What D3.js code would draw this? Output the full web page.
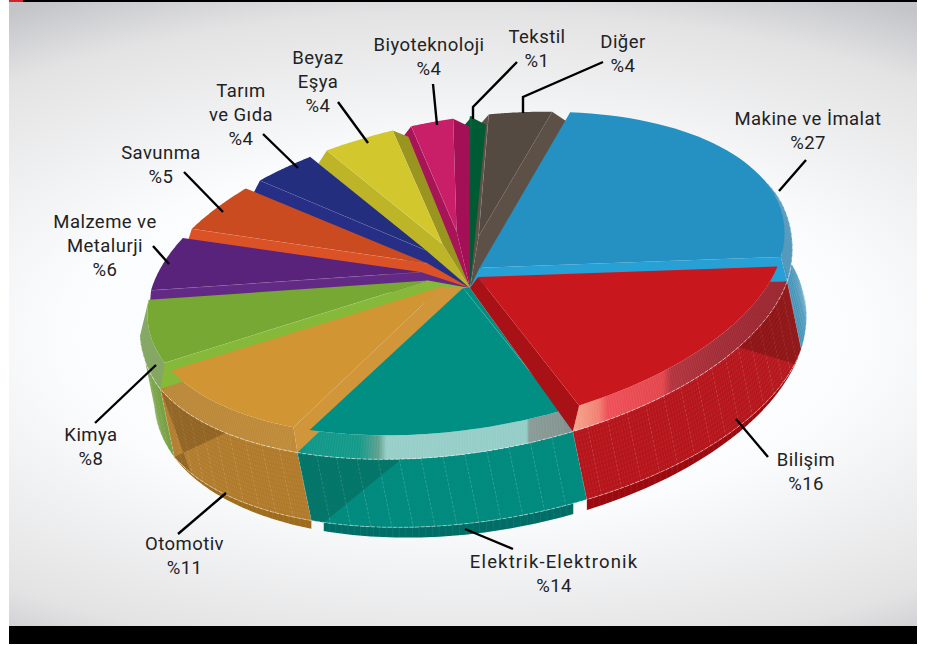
<!DOCTYPE html>
<html lang="tr">
<head>
<meta charset="utf-8">
<title>Sektörlere göre dağılım</title>
<script src="https://cdn.jsdelivr.net/npm/d3@7"></script>
<style>
html,body{margin:0;padding:0;background:#fff}
svg{display:block}
text{font-family:Roboto,"Open Sans",sans-serif;font-size:18.5px;font-weight:400;fill:#222;text-anchor:middle;letter-spacing:.45px}
</style>
</head>
<body>
<svg id="chart" width="927" height="646"></svg>
<script>
// Sector shares, clockwise from the large blue slice
const sectorNames = ["Makine ve İmalat","Bilişim","Elektrik-Elektronik","Otomotiv","Kimya","Malzeme ve Metalurji","Savunma","Tarım ve Gıda","Beyaz Eşya","Biyoteknoloji","Tekstil","Diğer"];
const sectorShares = [27,16,14,11,8,6,5,4,4,4,1,4];
const labelLines = [["Makine ve İmalat"],["Bilişim"],["Elektrik-Elektronik"],["Otomotiv"],["Kimya"],["Malzeme ve","Metalurji"],["Savunma"],["Tarım","ve Gıda"],["Beyaz","Eşya"],["Biyoteknoloji"],["Tekstil"],["Diğer"]];

// Slice colours: top face, start-side bevel, end-side bevel, wall, foot
const faceColors  = ["#2590c2","#c8171d","#018f83","#d29533","#78a834","#59227b","#cb4b20","#232e7e","#d2c82e","#c81f68","#00663a","#554a41"];
const startColors = ["#27a0d6","#a81216","#018f83","#d2963a","#86b83a","#632a85","#da5226","#262f85","#bdb527","#a81458","#005a33","#5d5047"];
const endColors   = ["#27a0d6","#a81216","#018f83","#d2963a","#86b83a","#632a85","#da5226","#262f85","#9a9421","#a31055","#005a33","#5d5047"];
const wallColors  = ["#2e87b0","#b5151b","#018a7e","#b07a2a","#6c9a34","#59227b","#cb4b20","#232e7e","#d2c82e","#c81f68","#00663a","#554a41"];
const footColors  = ["#1f7099","#9b0a0e","#006e66","#9e6c1c","#557e24","#59227b","#cb4b20","#232e7e","#d2c82e","#c81f68","#00663a","#554a41"];
// Strength of the fine stipple on each visible wall
const stippleOpacity = [.3,.1,.03,.1,.14];

// Drawn angle of each slice boundary: the oblique view stretches the front and squeezes the back
const boundaryDegrees = [22,105,165.5,215.7,254,281.5,303.5,322.6,337,353,364,367,382];
// Where each face narrows to its point, as a fraction of the radius
const tipRadius = [.05,.05,.09,.1,.12,.15,.155,.22,.22,.28,.2,.23];
// Paint order of the slices from back to front
const paintOrder = [11,10,9,8,7,6,5,4,3,2,0,1];

// Label placement: centre x and first baseline, then leader polyline
const labelAnchors = [[808,125],[806,466],[554,568],[184.5,550],[91,441],[105,228],[161,159],[241,97],[318,64],[429,51],[537,43],[623,48]];
const labelTracking = [.45,.45,1.15,.45,.45,.45,.45,.45,.45,.45,.45,.45];
const leaderPaths = [
  [[806,160],[779,191]],
  [[768,457],[736,419]],
  [[513,549],[465,529]],
  [[178,534],[226,493]],
  [[95,423],[156,365]],
  [[153,246],[169,264]],
  [[184,172],[223,212]],
  [[263,134],[298,168]],
  [[338,102],[368,143]],
  [[433,84],[437,125]],
  [[517,62],[473,107],[473,119]],
  [[603,62],[523,97],[523,113]]
];

const plot = {left:9, right:917, top:2, bottom:626};
const cx = 466, cy = 273.5, radiusX = 322, radiusY = 155;
const sinT = -0.165, cosT = 0.986;
const apex = [470,288];
const wallVector = [14,68], gap = 1.7 * Math.PI / 180;
const wallFrom = 60 * Math.PI / 180, wallTo = 272 * Math.PI / 180;

const svg = d3.select("#chart");
const defs = svg.append("defs");

// Backdrop: white centre fading to cool grey at the corners
const bg = defs.append("radialGradient").attr("id","backdrop").attr("gradientUnits","userSpaceOnUse")
  .attr("cx",0).attr("cy",0).attr("r",1)
  .attr("gradientTransform","translate(463,335) scale(848,381.6)");
[[0,"#fdfeff"],[.5,"#fbfcfd"],[.9,"#e3e3e4"],[1.06,"#c4c5c9"]].forEach(([o,c]) => bg.append("stop").attr("offset",o/1.06).attr("stop-color",c));

svg.append("rect").attr("x",plot.left).attr("y",plot.top).attr("width",plot.right-plot.left).attr("height",plot.bottom-plot.top).attr("fill","url(#backdrop)");
svg.append("rect").attr("x",plot.left).attr("y",0).attr("width",plot.right-plot.left).attr("height",plot.top).attr("fill","#000");
svg.append("rect").attr("x",plot.left).attr("y",0).attr("width",14).attr("height",plot.top).attr("fill","#d2232a");
svg.append("rect").attr("x",plot.left).attr("y",plot.bottom).attr("width",plot.right-plot.left).attr("height",18).attr("fill","#000");

// Reflections on the rims of the front slices, running along the screen x axis
function bandGradient(id, stops, x1, x2){
  const g = defs.append("linearGradient").attr("id",id).attr("gradientUnits","userSpaceOnUse").attr("x1",x1).attr("x2",x2).attr("y1",0).attr("y2",0);
  stops.forEach(([o,c]) => g.append("stop").attr("offset",o).attr("stop-color",c));
  return `url(#${id})`;
}
const bandFills = {
  0: bandGradient("rimBlue",[[0,"#4b93b8"],[1,"#4b93b8"]],770,800),
  1: bandGradient("rimRed",[[0,"#f6a58e"],[.12,"#f27f72"],[.16,"#ef5058"],[.42,"#e3454b"],[.46,"#b2333d"],[.7,"#a02a35"],[1,"#98202a"]],573,787),
  2: bandGradient("rimTeal",[[0,"#0e9688"],[.22,"#149a8a"],[.29,"#5fa08e"],[.32,"#97cfc8"],[.83,"#94cdc7"],[.84,"#8a9c98"],[1,"#82928f"]],299,573),
  3: bandGradient("rimOrange",[[0,"#b98636"],[1,"#c08b38"]],160,300),
  4: bandGradient("rimGreen",[[0,"#7fa35c"],[1,"#7fa35c"]],140,170)
};

// Oblique projection of a point on the disc: angle clockwise from the top, r in radii
function project(a, r){
  const u = radiusX * r * Math.sin(a), v = -radiusY * r * Math.cos(a);
  return [cx + u*cosT - v*sinT, cy + u*sinT + v*cosT];
}
const dropScale = d3.scaleLinear().domain([-.25,.22]).range([20,10]).clamp(true);
const footScale = d3.scaleLinear().domain([-.25,-1]).range([0,11]).clamp(true);
function lipPoint(a){
  const p = project(a, 1.025);
  return [p[0], p[1] + dropScale(Math.cos(a))];
}
const wallPoint = a => { const p = lipPoint(a); return [p[0]+wallVector[0], p[1]+wallVector[1]]; };
const footPoint = a => { const p = wallPoint(a); return [p[0], p[1]+footScale(Math.cos(a))]; };
const sweep = (a0,a1,n=40) => d3.range(n+1).map(i => a0 + (a1-a0)*i/n);
const line = d3.line();
const closed = pts => line(pts) + "Z";
const rad = d => d*Math.PI/180;

// Pie layout turns shares into cumulative angles; the scale maps those onto the drawn boundaries
const arcs = d3.pie().sort(null).value(d => d)(sectorShares);
const stops = [0].concat(arcs.map(d => d.endAngle));
const angleScale = d3.scaleLinear().domain(stops).range(boundaryDegrees.map(rad));
const slices = arcs.map((d,i) => {
  const a0 = angleScale(d.startAngle), a1 = angleScale(d.endAngle), mid = (a0+a1)/2;
  return {i, a0, a1, mid, tip: project(mid, tipRadius[i])};
});

const wallG = svg.append("g"), rimG = svg.append("g"), topG = svg.append("g"), leaderG = svg.append("g"), labelG = svg.append("g");

// Foot and wall of the visible side of the pie
[0,4,3,2,1].forEach(k => {
  const s = slices[k];
  const from = Math.max(s.a0, wallFrom), to = Math.min(s.a1, wallTo);
  const inset = rad(2.5);
  const footB = (k===2||k===1) ? from+inset : from, footA = k===2 ? to-inset : to;
  const foot = sweep(footB, footA).map(wallPoint).concat(sweep(footB, footA).map(footPoint).reverse());
  wallG.append("path").attr("d",closed(foot)).attr("fill",footColors[k]);
  // fine facets on the foot
  sweep(footB, footA, Math.round((footA-footB)*180/Math.PI/1.2)).forEach(a => {
    wallG.append("path").attr("d",line([wallPoint(a),footPoint(a)])).attr("stroke","#fff").attr("stroke-opacity",.1).attr("stroke-width",.6);
  });
  const wall = sweep(from,to).map(lipPoint).concat(sweep(from,to).map(wallPoint).reverse());
  wallG.append("path").attr("d",closed(wall)).attr("fill",wallColors[k]);
  // dashed facet lines that give the wall its stippled look
  sweep(from,to,Math.round((to-from)*180/Math.PI/.55)).forEach((a,j) => {
    wallG.append("path").attr("d",line([lipPoint(a),wallPoint(a)])).attr("stroke","#fff")
      .attr("stroke-opacity",j%7===0?.26:stippleOpacity[k]).attr("stroke-width",.7).attr("stroke-dasharray","3 1.5");
  });
  wallG.append("path").attr("d",line(sweep(from,to).map(wallPoint))).attr("fill","none").attr("stroke","#fff").attr("stroke-opacity",.55).attr("stroke-width",.8).attr("stroke-dasharray","4 1.5");
});

// Shadows that neighbouring slices throw across the walls
function shade(pts, opacity){
  wallG.append("path").attr("d",closed(pts)).attr("fill","#1a0c00").attr("fill-opacity",opacity);
}
shade([lipPoint(rad(215.7)), wallPoint(rad(215.7)), wallPoint(rad(213.2)), ...sweep(rad(196),rad(215.7),10).map(lipPoint)], .16);
shade([...sweep(rad(232),rad(254),10).map(lipPoint).reverse(), wallPoint(rad(254)), wallPoint(rad(247))], .2);
shade([lipPoint(rad(105)), wallPoint(rad(105)), wallPoint(rad(110)), ...sweep(rad(105),rad(128),12).map(a => lipPoint(a)).reverse()], .24);

// Bevelled rim between each top face and its wall
[0,4,3,2,1].forEach(k => {
  const s = slices[k];
  const from = Math.max(s.a0, wallFrom), to = Math.min(s.a1, wallTo);
  const rimFrom = k===0 ? rad(79.5) : (k===4 ? from : s.a0+gap);
  const rimTo = k===4 ? s.a1 : s.a1-gap;
  const top = sweep(rimFrom,rimTo).map(a => project(a,1));
  const lower = sweep(k===0?rad(79.5):from,to).map(lipPoint).reverse();
  rimG.append("path").attr("d",closed(top.concat(lower))).attr("fill",bandFills[k]);
  sweep(rimFrom,rimTo,Math.round((rimTo-rimFrom)*180/Math.PI/.5)).forEach(a => {
    rimG.append("path").attr("d",line([project(a,1),lipPoint(a)])).attr("stroke","#fff").attr("stroke-opacity",.1).attr("stroke-width",.6);
  });
  rimG.append("path").attr("d",line(sweep(from,to).map(lipPoint))).attr("fill","none").attr("stroke","#fff").attr("stroke-opacity",.65).attr("stroke-width",.8).attr("stroke-dasharray","4 1.5");
});
shade([...sweep(rad(107),rad(128),14).map(a => project(a,1)), ...sweep(rad(105),rad(128),14).map(lipPoint).reverse()], .3);

// Top faces with their side bevels running in to the shared apex
paintOrder.forEach(k => {
  const s = slices[k], g = topG.append("g");
  const back = Math.cos(s.mid) > .9;
  const faceA = s.a0 + gap, faceB = s.a1 - gap;
  // Corners on the visible wall meet the lip; those further back hang just below the rim
  const corner = a => {
    if (a >= wallFrom && a <= wallTo) return lipPoint(a);
    const p = project(a,1);
    return [p[0], p[1] + dropScale(Math.cos(a))];
  };
  if (back || s.mid > Math.PI) {
    g.append("path").attr("d",closed([project(faceA,1), corner(s.a0), apex, s.tip])).attr("fill",startColors[k]);
    if (k!==3) g.append("path").attr("d",line([project(faceA,1), s.tip])).attr("stroke","#fff").attr("stroke-opacity",.28).attr("stroke-width",.6).attr("fill","none");
  }
  if (back || s.mid < Math.PI) {
    // behind the rim the end corner runs on under the next slice so no background shows
    const endCorner = corner(back ? s.a1 + gap*.7 : s.a1);
    g.append("path").attr("d",closed([project(faceB,1), endCorner, apex, s.tip])).attr("fill",endColors[k]);
  }
  g.append("path").attr("d",closed([s.tip].concat(sweep(faceA,faceB).map(a => project(a,1))))).attr("fill",faceColors[k]);
});

// Leader lines
leaderPaths.forEach(pts => {
  leaderG.append("path").attr("d",line(pts)).attr("fill","none").attr("stroke","#000").attr("stroke-width",2.4);
});

// Labels: sector name lines followed by the percentage
labelLines.forEach((lines,i) => {
  const [x,y] = labelAnchors[i];
  const t = labelG.append("text").attr("x",x).attr("y",y);
  lines.forEach((s,j) => {
    t.append("tspan").attr("x",x).attr("dy",j?23.8:0).style("letter-spacing",labelTracking[i]+"px").text(s);
  });
  t.append("tspan").attr("x",x).attr("dy",23.8).text("%" + sectorShares[i]);
});
</script>
</body>
</html>
